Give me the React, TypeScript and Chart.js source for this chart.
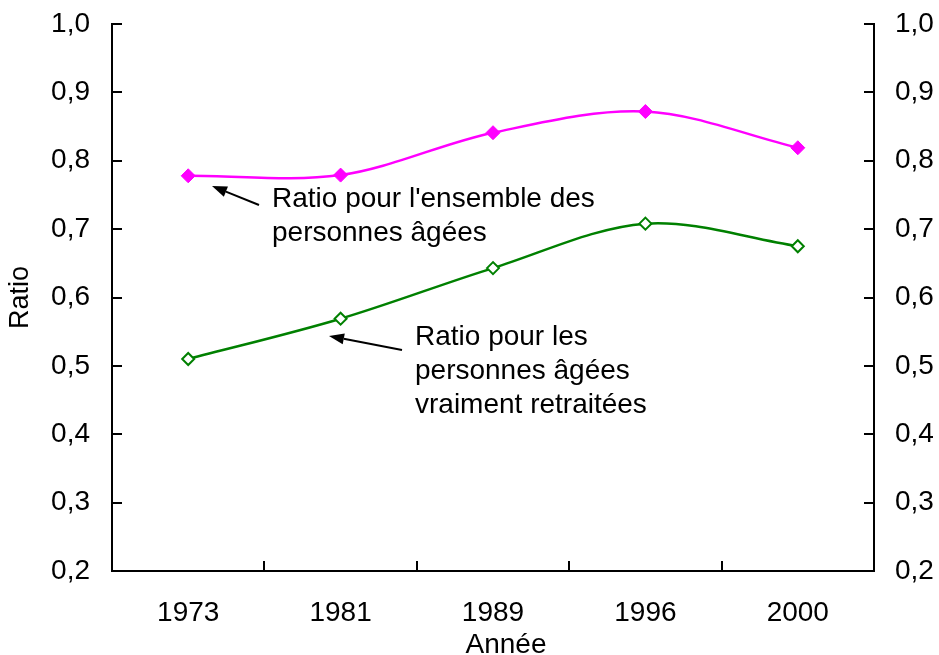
import React, { useEffect, useRef } from 'react';
import { Chart, registerables } from 'chart.js';

Chart.register(...registerables);

const years = ['1973', '1981', '1989', '1996', '2000'];
const ratioEnsemble = [0.778, 0.779, 0.841, 0.872, 0.819];
const ratioRetraitees = [0.51, 0.569, 0.643, 0.708, 0.675];
const yTickValues = [0.2, 0.3, 0.4, 0.5, 0.6, 0.7, 0.8, 0.9, 1.0];
const yTickLabels = ['0,2', '0,3', '0,4', '0,5', '0,6', '0,7', '0,8', '0,9', '1,0'];
const xAxisTitle = 'Année';
const annotationEnsemble = ["Ratio pour l'ensemble des", 'personnes âgées'];
const annotationRetraitees = ['Ratio pour les', 'personnes âgées', 'vraiment retraitées'];

const FONT = "'Liberation Sans', Arial, sans-serif";
const FS = 28;

function tickLabel(value: number): string {
  const i = yTickValues.findIndex((v) => Math.abs(v - value) < 1e-6);
  return i >= 0 ? yTickLabels[i] : '';
}

function drawArrow(ctx: CanvasRenderingContext2D, x1: number, y1: number, x2: number, y2: number) {
  const ang = Math.atan2(y2 - y1, x2 - x1);
  const len = 15;
  const half = 5.5;
  const bx = x2 - Math.cos(ang) * len;
  const by = y2 - Math.sin(ang) * len;
  ctx.save();
  ctx.strokeStyle = '#000';
  ctx.fillStyle = '#000';
  ctx.lineWidth = 2;
  ctx.beginPath();
  ctx.moveTo(x1, y1);
  ctx.lineTo(bx, by);
  ctx.stroke();
  ctx.beginPath();
  ctx.moveTo(x2, y2);
  ctx.lineTo(bx - Math.sin(ang) * half, by + Math.cos(ang) * half);
  ctx.lineTo(bx + Math.sin(ang) * half, by - Math.cos(ang) * half);
  ctx.closePath();
  ctx.fill();
  ctx.restore();
}

const decorPlugin = {
  id: 'decor',
  afterDatasetsDraw(chart: any) {
    const ctx: CanvasRenderingContext2D = chart.ctx;
    const area = chart.chartArea;
    const xs = chart.scales.x;
    const yl = chart.scales.y;
    const tick = 10;
    ctx.save();
    ctx.strokeStyle = '#000';
    ctx.lineWidth = 2;
    ctx.beginPath();
    for (let i = 0; i <= years.length; i++) {
      const px = Math.round(xs.getPixelForValue(i - 0.5));
      ctx.moveTo(px, area.bottom);
      ctx.lineTo(px, area.bottom - tick);
    }
    for (const v of yTickValues) {
      const py = Math.round(yl.getPixelForValue(v));
      ctx.moveTo(area.left, py);
      ctx.lineTo(area.left + tick, py);
      ctx.moveTo(area.right, py);
      ctx.lineTo(area.right - tick, py);
    }
    ctx.stroke();
    ctx.restore();

    ctx.save();
    ctx.fillStyle = '#000';
    ctx.font = `${FS}px ${FONT}`;
    ctx.textAlign = 'left';
    ctx.textBaseline = 'alphabetic';
    annotationEnsemble.forEach((t, i) => ctx.fillText(t, 272, 207 + i * 34));
    annotationRetraitees.forEach((t, i) => ctx.fillText(t, 415, 345 + i * 34));
    ctx.textAlign = 'center';
    ctx.fillText(xAxisTitle, 506, 653);
    ctx.restore();

    drawArrow(ctx, 259, 205, 212, 186);
    drawArrow(ctx, 402, 350, 329, 336);
  },
};

const noPad = (s: any) => {
  s.paddingTop = 0;
  s.paddingBottom = 0;
};

export default function App() {
  const ref = useRef<HTMLCanvasElement>(null);
  useEffect(() => {
    const chart = new Chart(ref.current as HTMLCanvasElement, {
      type: 'line',
      data: {
        labels: years,
        datasets: [
          {
            label: 'Ensemble',
            data: ratioEnsemble,
            borderColor: '#FF00FF',
            backgroundColor: '#FF00FF',
            borderWidth: 2.5,
            tension: 0.33,
            pointStyle: 'rectRot',
            pointRadius: 7,
            pointBorderWidth: 1,
            pointBackgroundColor: '#FF00FF',
            pointBorderColor: '#FF00FF',
            yAxisID: 'y',
          },
          {
            label: 'Retraitées',
            data: ratioRetraitees,
            borderColor: '#008000',
            backgroundColor: '#ffffff',
            borderWidth: 2.5,
            tension: 0.33,
            pointStyle: 'rectRot',
            pointRadius: 6,
            pointBorderWidth: 2,
            pointBackgroundColor: '#ffffff',
            pointBorderColor: '#008000',
            yAxisID: 'y',
          },
        ],
      },
      options: {
        responsive: false,
        animation: false,
        devicePixelRatio: 1,
        layout: { padding: { top: 24, bottom: 0, left: 0, right: 0 } },
        plugins: { legend: { display: false }, tooltip: { enabled: false } },
        scales: {
          x: {
            type: 'category',
            offset: true,
            grid: { display: true, drawOnChartArea: false, drawTicks: false, offset: true },
            border: { display: true, color: '#000', width: 2 },
            ticks: { color: '#000', font: { family: FONT, size: FS }, padding: 25, maxRotation: 0 },
            title: { display: false },
            afterFit: (s: any) => {
              s.height = 84;
              s.paddingLeft = 0;
              s.paddingRight = 0;
            },
          },
          y: {
            type: 'linear',
            position: 'left',
            min: 0.2,
            max: 1.0,
            grid: { display: true, drawOnChartArea: false, drawTicks: false },
            border: { display: true, color: '#000', width: 2 },
            ticks: {
              stepSize: 0.1,
              color: '#000',
              font: { family: FONT, size: FS },
              padding: 22,
              callback: (v: any) => tickLabel(Number(v)),
            },
            title: {
              display: true,
              text: 'Ratio',
              color: '#000',
              font: { family: FONT, size: 27, lineHeight: 1 },
              padding: { top: 7, bottom: 0 },
            },
            afterFit: (s: any) => {
              s.width = 112;
              noPad(s);
            },
          },
          yRight: {
            type: 'linear',
            position: 'right',
            min: 0.2,
            max: 1.0,
            grid: { display: true, drawOnChartArea: false, drawTicks: false },
            border: { display: true, color: '#000', width: 2 },
            ticks: {
              stepSize: 0.1,
              color: '#000',
              font: { family: FONT, size: FS },
              padding: 21,
              callback: (v: any) => tickLabel(Number(v)),
            },
            afterFit: (s: any) => {
              s.width = 65;
              noPad(s);
            },
          },
        },
      },
      plugins: [decorPlugin],
    } as any);
    return () => chart.destroy();
  }, []);
  return (
    <div style={{ position: 'absolute', left: 0, top: 0, width: 939, height: 655, background: '#fff' }}>
      <canvas ref={ref} width={939} height={655} style={{ display: 'block' }} />
    </div>
  );
}
